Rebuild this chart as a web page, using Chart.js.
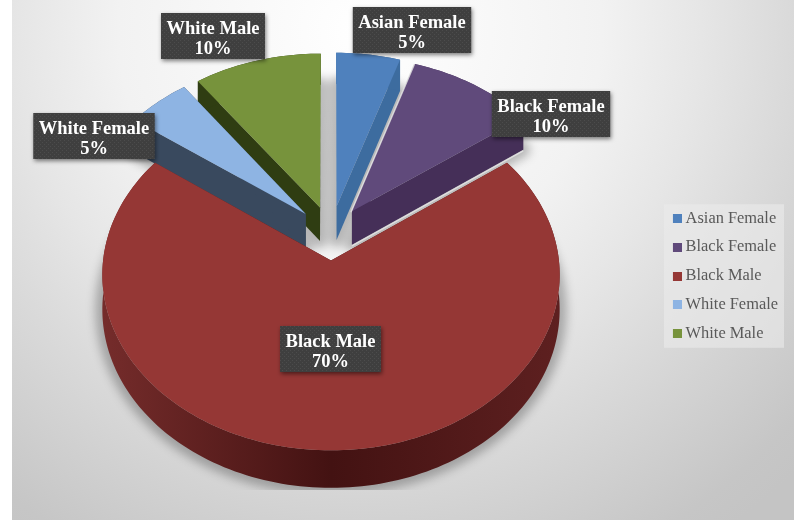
<!DOCTYPE html>
<html>
<head>
<meta charset="utf-8">
<style>
  html, body { margin: 0; padding: 0; background: #fff; }
  canvas { display: block; }
</style>
<script src="https://cdn.jsdelivr.net/npm/chart.js@4/dist/chart.umd.js"></script>
</head>
<body>
<canvas id="pie" width="794" height="521"></canvas>
<script>
const categories = ['Asian Female', 'Black Female', 'Black Male', 'White Female', 'White Male'];
const shares = [5, 10, 70, 5, 10];
const topColors = ['#4f81bd', '#604a7b', '#953735', '#8eb4e3', '#77933c'];
const wallColors = ['#3d6c9f', '#452f58', '#5a1c1c', '#39495e', '#2f3d12'];
const edgeWidths = [0, 1.5, 0, 0, 0];
// label box centres, one per category
const labelCentersX = [412, 551, 330.5, 94, 213];
const labelCentersY = [30, 114, 349, 136, 36];

const SERIF = '"Liberation Serif", serif';

// fitted perspective of the tilted disc
const view = { cx: 331, cy: 233, a: 225, b: 170, p: 0.08, explode: 0.16, depth: 34 };

function project(x, y, z)
{
    const w = 1 + view.p * y;
    return {
        x: view.cx + view.a * x / w,
        y: view.cy - view.b * y / w + (z || 0) * view.depth / w,
    };
}

function trace(ctx, points)
{
    ctx.beginPath();
    points.forEach((p, i) => (i ? ctx.lineTo(p.x, p.y) : ctx.moveTo(p.x, p.y)));
    ctx.closePath();
}

class Arc3D extends Chart.ArcElement
{
    static id = 'arc3d';

    // returns apex and rim in disc coordinates
    outline()
    {
        const { startAngle, endAngle } = this.getProps(['startAngle', 'endAngle']);
        const mid = (startAngle + endAngle) / 2;
        const ox = Math.cos(mid) * view.explode;
        const oy = -Math.sin(mid) * view.explode;
        const rim = [];
        const steps = Math.max(4, Math.ceil((endAngle - startAngle) * 40));
        for (let i = 0; i <= steps; i++)
        {
            const a = startAngle + (endAngle - startAngle) * i / steps;
            rim.push({ x: ox + Math.cos(a), y: oy - Math.sin(a) });
        }
        return { apex: { x: ox, y: oy }, rim, oy };
    }

    silhouette(z)
    {
        const { apex, rim } = this.outline();
        return [apex, ...rim].map(p => project(p.x, p.y, z));
    }

    draw(ctx)
    {
        const { apex, rim } = this.outline();
        const fill = this.options.backgroundColor;
        const wall = this.options.borderColor;

        let wallFill = wall;
        if (rim.length > 100)
        {
            // the long front rim goes darker towards the middle
            wallFill = ctx.createLinearGradient(102, 0, 561, 0);
            wallFill.addColorStop(0, '#752c2b');
            wallFill.addColorStop(0.5, '#431212');
            wallFill.addColorStop(1, '#5e2020');
        }
        ctx.fillStyle = wallFill;

        // walls: two radial faces, then the rim
        const first = rim[0];
        const last = rim[rim.length - 1];
        [first, last].forEach(p =>
        {
            trace(ctx, [project(apex.x, apex.y), project(p.x, p.y), project(p.x, p.y, 1), project(apex.x, apex.y, 1)]);
            ctx.fill();
        });
        const top = rim.map(p => project(p.x, p.y));
        const bottom = rim.map(p => project(p.x, p.y, 1)).reverse();
        trace(ctx, top.concat(bottom));
        ctx.fill();

        ctx.fillStyle = fill;
        trace(ctx, this.silhouette(0));
        ctx.fill();

        // thin light edge where a slice catches the light
        if (this.options.borderWidth > 0)
        {
            ctx.save();
            ctx.strokeStyle = 'rgba(228,228,228,0.85)';
            ctx.lineWidth = this.options.borderWidth;
            const a = project(first.x, first.y);
            const b = project(apex.x, apex.y);
            const c = project(apex.x, apex.y, 1);
            const d = project(last.x, last.y, 1);
            ctx.beginPath();
            ctx.moveTo(a.x, a.y);
            ctx.lineTo(b.x - 1, b.y + 1);
            ctx.moveTo(c.x, c.y + 1);
            ctx.lineTo(d.x, d.y + 1);
            ctx.stroke();
            ctx.restore();
        }
    }
}

class Pie3D extends Chart.PieController
{
    static id = 'pie3d';
    static defaults = { dataElementType: 'arc3d' };

    draw()
    {
        const ctx = this.chart.ctx;
        const slices = this._cachedMeta.data;

        // soft shadow on the floor, drawn once on a spare canvas
        const spare = document.createElement('canvas');
        spare.width = this.chart.width;
        spare.height = this.chart.height;
        const s2 = spare.getContext('2d');
        s2.lineWidth = 14;
        s2.lineJoin = 'round';
        slices.forEach(s =>
        {
            trace(s2, s.silhouette(1));
            s2.fill();
            s2.stroke();
        });
        ctx.save();
        ctx.beginPath();
        ctx.rect(12, 0, 782, 490);
        ctx.clip();
        ctx.filter = 'blur(5px)';
        ctx.globalAlpha = 0.26;
        ctx.drawImage(spare, 0, 0);
        ctx.restore();

        // paint back slices first
        slices.slice().sort((p, q) => q.outline().oy - p.outline().oy).forEach(s => s.draw(ctx));
    }
}

Chart.register(Arc3D, Pie3D);

const backdrop = {
    id: 'backdrop',
    beforeDraw(chart)
    {
        const ctx = chart.ctx;
        const g = ctx.createRadialGradient(360, 30, 0, 360, 30, 620);
        g.addColorStop(0, '#ffffff');
        g.addColorStop(0.39, '#f2f2f2');
        g.addColorStop(0.55, '#e6e6e6');
        g.addColorStop(0.69, '#dadada');
        g.addColorStop(0.94, '#c6c6c6');
        g.addColorStop(1, '#c4c4c4');
        ctx.save();
        ctx.fillStyle = g;
        ctx.fillRect(12, 0, 782, 520);
        // legend panel sits around the rows
        const rows = chart.legend.legendHitBoxes;
        const top = rows[0].top - 6;
        const bottom = rows[rows.length - 1].top + rows[rows.length - 1].height + 6;
        ctx.fillStyle = 'rgba(235,235,235,0.6)';
        ctx.fillRect(664, top, 120, bottom - top);
        ctx.restore();
    },
};

function dotPattern(ctx)
{
    const tile = document.createElement('canvas');
    tile.width = 4;
    tile.height = 4;
    const t = tile.getContext('2d');
    t.fillStyle = '#3f3f3f';
    t.fillRect(0, 0, 4, 4);
    t.fillStyle = '#4c4c4c';
    t.fillRect(0, 0, 1, 1);
    t.fillRect(2, 2, 1, 1);
    return ctx.createPattern(tile, 'repeat');
}

const sliceLabels = {
    id: 'sliceLabels',
    afterDatasetsDraw(chart)
    {
        const ctx = chart.ctx;
        const pattern = dotPattern(ctx);
        ctx.save();
        ctx.font = 'bold 18.5px ' + SERIF;
        ctx.textAlign = 'center';
        ctx.textBaseline = 'middle';
        categories.forEach((name, i) =>
        {
            const cx = labelCentersX[i];
            const cy = labelCentersY[i];
            const w = ctx.measureText(name).width + 11;
            ctx.save();
            ctx.shadowColor = 'rgba(0,0,0,0.5)';
            ctx.shadowBlur = 4;
            ctx.shadowOffsetX = 1;
            ctx.shadowOffsetY = 2;
            ctx.fillStyle = pattern;
            ctx.fillRect(cx - w / 2, cy - 23, w, 46);
            ctx.restore();
            ctx.fillStyle = '#ffffff';
            ctx.fillText(name, cx, cy - 7);
            ctx.fillText(shares[i] + '%', cx, cy + 13);
        });
        ctx.restore();
    },
};

// legend square pushed right inside its mark, so it sits close to the text
function legendMark(color)
{
    const mark = document.createElement('canvas');
    mark.width = 18;
    mark.height = 9;
    const m = mark.getContext('2d');
    m.fillStyle = color;
    m.fillRect(9, 0, 9, 9);
    return mark;
}

new Chart(document.getElementById('pie').getContext('2d'), {
    type: 'pie3d',
    data: {
        labels: categories,
        datasets: [{
            data: shares,
            backgroundColor: topColors,
            borderColor: wallColors,
            borderWidth: edgeWidths,
        }],
    },
    options: {
        responsive: false,
        animation: false,
        events: [],
        layout: { padding: { top: 31, right: 6 } },
        plugins: {
            tooltip: { enabled: false },
            legend: {
                position: 'right',
                labels: {
                    usePointStyle: true,
                    pointStyleWidth: 9,
                    boxHeight: 9,
                    padding: 12.4,
                    color: '#595959',
                    font: { family: SERIF, size: 16.4 },
                    generateLabels(chart)
                    {
                        return categories.map((name, i) => ({
                            text: name,
                            fontColor: '#595959',
                            fillStyle: topColors[i],
                            strokeStyle: topColors[i],
                            lineWidth: 0,
                            pointStyle: legendMark(topColors[i]),
                            index: i,
                        }));
                    },
                },
            },
        },
    },
    plugins: [backdrop, sliceLabels],
});
</script>
</body>
</html>
